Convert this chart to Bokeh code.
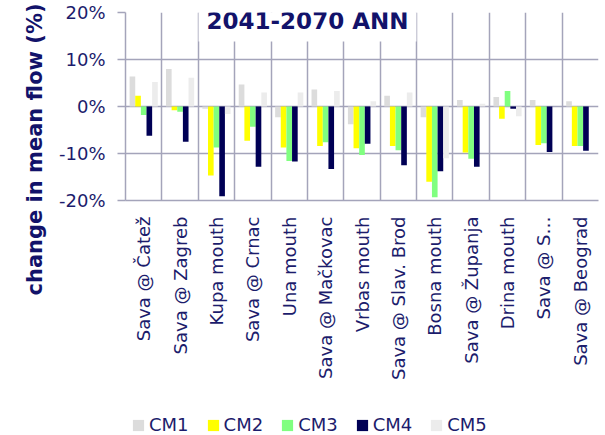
import math
from bokeh.plotting import figure
from bokeh.layouts import column
from bokeh.models import (ColumnDataSource, Range1d, FixedTicker, PrintfTickFormatter,
                          CustomJSTickFormatter, Label, Legend, LegendItem, Title)
from bokeh.transform import dodge
from bokeh.embed import file_html
from bokeh.resources import INLINE

# ---------------- data ----------------
stations = ["Sava @ Čatež", "Sava @ Zagreb", "Kupa mouth", "Sava @ Crnac", "Una mouth",
            "Sava @ Mačkovac", "Vrbas mouth", "Sava @ Slav. Brod", "Bosna mouth",
            "Sava @ Županja", "Drina mouth", "Sava @ S…", "Sava @ Beograd"]
cm1 = [6.4, 8.0, -0.5, 4.7, -2.3, 3.6, -3.8, 2.3, -2.3, 1.4, 2.0, 1.4, 1.1]
cm2 = [2.3, -0.8, -14.7, -7.3, -8.7, -8.4, -8.9, -8.4, -16.0, -9.8, -2.6, -8.2, -8.4]
cm3 = [-1.8, -1.1, -8.7, -4.3, -11.6, -7.6, -10.3, -9.3, -19.3, -11.1, 3.3, -7.8, -8.4]
cm4 = [-6.2, -7.5, -19.1, -12.8, -11.7, -13.3, -7.9, -12.5, -13.8, -12.8, -0.5, -9.7, -9.4]
cm5 = [5.2, 6.1, -1.6, 3.0, 3.0, 3.3, 1.1, 3.0, -11.0, 0.6, -2.1, 0.0, 0.0]
series_names = ["CM1", "CM2", "CM3", "CM4", "CM5"]
y_ticks = [-20, -10, 0, 10, 20]
title_text = "2041-2070 ANN"
y_label_text = "change in mean flow (%)"

# ---------------- styles ----------------
colors = ["#dcdcdc", "#ffff00", "#80ff80", "#000055", "#ececec"]
offsets = [-0.31, -0.155, 0.0, 0.155, 0.31]
bar_w = 0.155
navy = "#1c1c6c"
dark = "#12126a"
grid_c = "#a4a4ba"
font = "DejaVu Sans"
W = 600
H_MAIN = 406
H_LEG = 29

n = len(stations)
source = ColumnDataSource(dict(x=[i + 0.5 for i in range(n)],
                               CM1=cm1, CM2=cm2, CM3=cm3, CM4=cm4, CM5=cm5))

# ---- main chart ----
p = figure(width=W, height=H_MAIN, output_backend="svg", toolbar_location=None,
           x_range=Range1d(0, n), y_range=Range1d(y_ticks[0], y_ticks[-1]),
           min_border_left=125, min_border_right=2, min_border_top=12,
           min_border_bottom=H_MAIN - 200)
p.outline_line_color = None

for name, col, off in zip(series_names, colors, offsets):
    p.vbar(x=dodge("x", off), top=name, bottom=0, width=bar_w, source=source,
           fill_color=col, line_color=None)

# grids
p.xgrid.ticker = FixedTicker(ticks=list(range(n + 1)))
p.ygrid.ticker = FixedTicker(ticks=y_ticks)
for g in (p.xgrid, p.ygrid):
    g.grid_line_color = grid_c
    g.grid_line_width = 1.5

# y axis
ya = p.yaxis[0]
ya.ticker = FixedTicker(ticks=y_ticks)
ya.formatter = PrintfTickFormatter(format="%d%%")
ya.axis_line_color = grid_c
ya.axis_line_width = 1.5
ya.major_tick_line_color = grid_c
ya.major_tick_line_width = 1.5
ya.major_tick_out = 8
ya.major_tick_in = 0
ya.minor_tick_line_color = None
ya.major_label_standoff = 12
ya.major_label_text_font = font
ya.major_label_text_font_size = "18px"
ya.major_label_text_color = navy

# x axis
xa = p.xaxis[0]
xa.ticker = FixedTicker(ticks=[i + 0.5 for i in range(n)])
xa.formatter = CustomJSTickFormatter(args=dict(labels=stations),
                                     code="return labels[Math.floor(tick)] || '';")
xa.axis_line_color = grid_c
xa.axis_line_width = 1.5
xa.major_tick_line_color = None
xa.minor_tick_line_color = None
xa.major_tick_out = 0
xa.major_tick_in = 0
xa.major_label_orientation = math.pi / 2
xa.major_label_standoff = 16
xa.major_label_text_font = font
xa.major_label_text_font_size = "18px"
xa.major_label_text_color = navy

# title inside plot with white box
p.add_layout(Label(x=182, y=180, x_units="screen", y_units="screen", text=title_text,
                   text_align="center", text_baseline="middle", text_font=font,
                   text_font_size="23px", text_font_style="bold", text_color=dark,
                   background_fill_color="white", padding=8))

# y-axis title, placed in the left panel, starting below the frame
p.add_layout(Title(text=y_label_text, align="left", offset=-95, standoff=18,
                   text_font=font, text_font_size="21px", text_font_style="bold",
                   text_color=dark), "left")

# ---- legend strip ----
leg_fig = figure(width=W, height=H_LEG, output_backend="svg", toolbar_location=None,
                 x_range=Range1d(0, 1), y_range=Range1d(0, 1),
                 x_axis_location=None, y_axis_location=None, min_border=0)
leg_fig.grid.visible = False
leg_fig.outline_line_color = None
leg_renderers = []
for name, col, off in zip(series_names, colors, offsets):
    r = leg_fig.vbar(x=dodge("x", off), top=name, bottom=0, width=bar_w, source=source,
                     fill_color=col, line_color=None, visible=False)
    leg_renderers.append(r)
legend = Legend(items=[LegendItem(label=nm, renderers=[r])
                       for nm, r in zip(series_names, leg_renderers)],
                orientation="horizontal", location=(6, 0),
                glyph_width=14, glyph_height=14, label_standoff=4, spacing=17,
                padding=0, margin=0, border_line_color=None, background_fill_alpha=0,
                inactive_fill_alpha=0,
                label_text_font=font, label_text_font_size="18px",
                label_text_color=navy)
leg_fig.add_layout(legend)

layout = column(p, leg_fig)
open("out.html", "w").write(file_html(layout, INLINE))
